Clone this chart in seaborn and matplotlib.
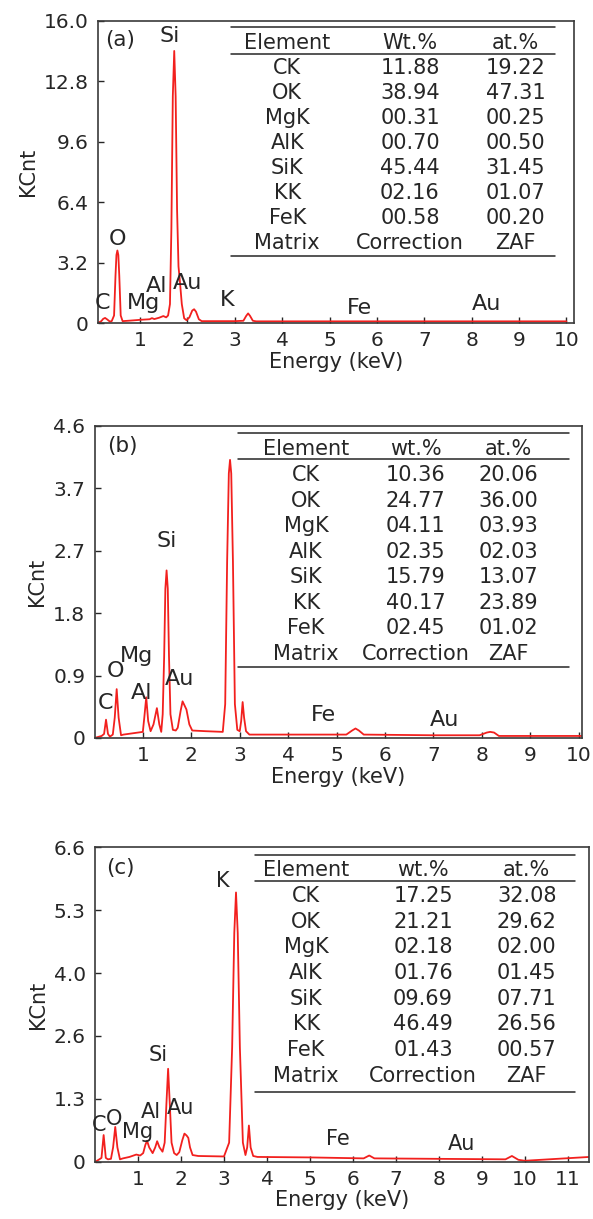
import numpy as np
import matplotlib
matplotlib.use("Agg")
import matplotlib.pyplot as plt
import seaborn as sns

# ---- spectra: energy (keV) and counts (KCnt) ----
energy_a = [0.12, 0.18, 0.22, 0.26, 0.30, 0.36, 0.40, 0.45, 0.48, 0.50,
            0.52, 0.54, 0.56, 0.59, 0.63, 0.80, 1.00, 1.20, 1.25, 1.30,
            1.40, 1.49, 1.55, 1.59, 1.63, 1.66, 1.69, 1.72, 1.75, 1.78,
            1.81, 1.84, 1.88, 1.93, 1.98, 2.04, 2.10, 2.14, 2.18, 2.24,
            2.30, 2.60, 3.00, 3.18, 3.24, 3.28, 3.32, 3.38, 3.45, 5.00,
            8.00, 10.00]
counts_a = [0.02, 0.10, 0.22, 0.27, 0.20, 0.08, 0.10, 0.40, 2.50, 3.60,
            3.84, 3.60, 2.50, 0.40, 0.10, 0.13, 0.17, 0.20, 0.26, 0.21,
            0.28, 0.37, 0.30, 0.40, 1.00, 5.00, 12.00, 14.40, 12.00, 6.00,
            3.00, 2.20, 1.00, 0.25, 0.15, 0.30, 0.66, 0.73, 0.60, 0.20,
            0.10, 0.10, 0.10, 0.12, 0.38, 0.51, 0.38, 0.12, 0.09, 0.09,
            0.09, 0.09]

energy_b = [0.00, 0.15, 0.20, 0.24, 0.28, 0.32, 0.38, 0.42, 0.46, 0.50,
            0.55, 0.60, 0.80, 1.00, 1.03, 1.07, 1.11, 1.16, 1.22, 1.29,
            1.34, 1.38, 1.41, 1.44, 1.465, 1.49, 1.515, 1.54, 1.57, 1.62,
            1.68, 1.72, 1.78, 1.82, 1.86, 1.90, 1.96, 2.02, 2.30, 2.65,
            2.70, 2.74, 2.775, 2.80, 2.825, 2.86, 2.90, 2.95, 3.00, 3.03,
            3.06, 3.09, 3.13, 3.20, 4.00, 5.20, 5.32, 5.39, 5.46, 5.56,
            7.00, 7.95, 8.10, 8.17, 8.25, 8.35, 10.06]
counts_b = [0.00, 0.03, 0.06, 0.27, 0.06, 0.02, 0.05, 0.30, 0.72, 0.30,
            0.04, 0.05, 0.07, 0.09, 0.30, 0.60, 0.25, 0.10, 0.20, 0.44,
            0.20, 0.09, 0.35, 1.20, 2.20, 2.47, 2.20, 1.20, 0.35, 0.12,
            0.11, 0.15, 0.40, 0.54, 0.48, 0.42, 0.20, 0.11, 0.10, 0.09,
            0.50, 2.60, 3.90, 4.10, 3.90, 2.60, 0.50, 0.12, 0.10, 0.25,
            0.53, 0.30, 0.10, 0.05, 0.05, 0.05, 0.11, 0.14, 0.11, 0.05,
            0.04, 0.04, 0.08, 0.09, 0.08, 0.03, 0.03]

energy_c = [0.01, 0.10, 0.15, 0.20, 0.25, 0.30, 0.37, 0.42, 0.47, 0.52,
            0.58, 0.65, 0.80, 0.96, 1.05, 1.12, 1.17, 1.21, 1.26, 1.34,
            1.40, 1.445, 1.50, 1.57, 1.62, 1.66, 1.70, 1.74, 1.78, 1.84,
            1.90, 1.96, 2.03, 2.08, 2.13, 2.17, 2.21, 2.27, 2.40, 3.00,
            3.12, 3.19, 3.24, 3.28, 3.32, 3.37, 3.44, 3.50, 3.54, 3.58,
            3.62, 3.68, 3.78, 5.00, 6.25, 6.38, 6.50, 8.00, 9.55, 9.70,
            9.85, 10.00, 11.50]
counts_c = [0.00, 0.05, 0.08, 0.56, 0.08, 0.05, 0.06, 0.30, 0.73, 0.30,
            0.05, 0.07, 0.10, 0.15, 0.13, 0.18, 0.35, 0.44, 0.30, 0.18,
            0.30, 0.43, 0.30, 0.21, 0.40, 1.20, 1.95, 1.20, 0.40, 0.18,
            0.14, 0.20, 0.45, 0.59, 0.55, 0.50, 0.30, 0.14, 0.12, 0.11,
            0.40, 2.40, 4.80, 5.65, 4.80, 2.40, 0.40, 0.14, 0.30, 0.76,
            0.30, 0.12, 0.10, 0.09, 0.07, 0.13, 0.07, 0.06, 0.05, 0.12,
            0.04, 0.02, 0.10]

# ---- peak labels (text, energy, counts) ----
peak_names_a = ["C", "O", "Mg", "Al", "Si", "Au", "K", "Fe", "Au"]
peak_x_a = [0.20, 0.52, 1.07, 1.35, 1.62, 2.01, 2.83, 5.63, 8.32]
peak_y_a = [1.05, 4.45, 1.05, 1.95, 15.2, 2.10, 1.22, 0.80, 0.99]

peak_names_b = ["C", "O", "Mg", "Al", "Si", "Au", "Fe", "Au"]
peak_x_b = [0.22, 0.43, 0.87, 0.97, 1.49, 1.76, 4.73, 7.23]
peak_y_b = [0.51, 0.98, 1.21, 0.66, 2.90, 0.87, 0.34, 0.27]

peak_names_c = ["C", "O", "Mg", "Al", "Si", "Au", "K", "Fe", "Au"]
peak_x_c = [0.10, 0.44, 0.99, 1.29, 1.47, 1.99, 2.98, 5.64, 8.53]
peak_y_c = [0.76, 0.89, 0.63, 1.04, 2.24, 1.13, 5.90, 0.48, 0.38]

# ---- y tick labels ----
ytick_labels_a = ["0", "3.2", "6.4", "9.6", "12.8", "16.0"]
ytick_labels_b = ["0", "0.9", "1.8", "2.7", "3.7", "4.6"]
ytick_labels_c = ["0", "1.3", "2.6", "4.0", "5.3", "6.6"]

# ---- composition tables ----
elements = ["CK", "OK", "MgK", "AlK", "SiK", "KK", "FeK"]
wt_a = ["11.88", "38.94", "00.31", "00.70", "45.44", "02.16", "00.58"]
at_a = ["19.22", "47.31", "00.25", "00.50", "31.45", "01.07", "00.20"]
wt_b = ["10.36", "24.77", "04.11", "02.35", "15.79", "40.17", "02.45"]
at_b = ["20.06", "36.00", "03.93", "02.03", "13.07", "23.89", "01.02"]
wt_c = ["17.25", "21.21", "02.18", "01.76", "09.69", "46.49", "01.43"]
at_c = ["32.08", "29.62", "02.00", "01.45", "07.71", "26.56", "00.57"]
footer = ["Matrix", "Correction", "ZAF"]

RED = "#f2201e"
INK = "#262626"

sns.set_theme(style="white")
plt.rcParams["font.family"] = ["DejaVu Sans"]
plt.rcParams["text.color"] = INK

fig = plt.figure(figsize=(5.93, 12.19), dpi=100)

panels = [
    dict(tag="(a)", box=[0.166, 0.735, 0.802, 0.248], xlim=(0.12, 10.16),
         nx=10, ymax=16.0, yl=ytick_labels_a, e=energy_a, c=counts_a, fs=16,
         pn=peak_names_a, px=peak_x_a, py=peak_y_a, wth="Wt.%", wt=wt_a, at=at_a,
         tab=dict(x0=0.279, x1=0.959, top=0.978, head=0.927, hline=0.890,
                  row0=0.8425, step=0.0826, bot=0.2225, cols=(0.397, 0.655, 0.877))),
    dict(tag="(b)", box=[0.160, 0.3946, 0.821, 0.256], xlim=(0.01, 10.06),
         nx=10, ymax=4.6, yl=ytick_labels_b, e=energy_b, c=counts_b, fs=16,
         pn=peak_names_b, px=peak_x_b, py=peak_y_b, wth="wt.%", wt=wt_b, at=at_b,
         tab=dict(x0=0.294, x1=0.974, top=0.9765, head=0.925, hline=0.893,
                  row0=0.8417, step=0.0817, bot=0.2267, cols=(0.434, 0.659, 0.849))),
    dict(tag="(c)", box=[0.161, 0.047, 0.832, 0.258], xlim=(0.01, 11.49),
         nx=11, ymax=6.6, yl=ytick_labels_c, e=energy_c, c=counts_c, fs=15,
         pn=peak_names_c, px=peak_x_c, py=peak_y_c, wth="wt.%", wt=wt_c, at=at_c,
         tab=dict(x0=0.323, x1=0.972, top=0.976, head=0.926, hline=0.8916,
                  row0=0.845, step=0.0816, bot=0.223, cols=(0.427, 0.664, 0.874))),
]

for p in panels:
    ax = fig.add_axes(p["box"])
    sns.lineplot(x=p["e"], y=p["c"], ax=ax, color=RED, linewidth=1.3,
                 sort=False, estimator=None)
    ax.set_xlim(*p["xlim"])
    ax.set_ylim(0, p["ymax"])
    ax.set_xticks(range(1, p["nx"] + 1))
    ax.set_yticks(np.linspace(0, p["ymax"], len(p["yl"])))
    ax.set_yticklabels(p["yl"])
    ax.tick_params(axis="both", direction="in", length=4.5, width=1.0,
                   colors=INK, labelsize=14.5, bottom=True, left=True)
    ax.tick_params(axis="x", pad=6)
    ax.tick_params(axis="y", pad=7)
    for s in ax.spines.values():
        s.set_visible(True)
        s.set_color("#3a3a3a")
        s.set_linewidth(1.2)
    ax.set_xlabel("Energy (keV)", fontsize=15, labelpad=1, color=INK)
    ax.set_ylabel("KCnt", fontsize=15, labelpad=4, color=INK)

    ax.text(0.58, p["ymax"] * 0.935, p["tag"], fontsize=15.5, ha="center", va="center")
    for name, x, y in zip(p["pn"], p["px"], p["py"]):
        ax.text(x, y, name, fontsize=p["fs"], ha="center", va="center")

    t = p["tab"]
    tr = ax.transAxes
    for yy in (t["top"], t["hline"], t["bot"]):
        ax.plot([t["x0"], t["x1"]], [yy, yy], transform=tr, color=INK, lw=1.1,
                clip_on=False)
    c0, c1, c2 = t["cols"]
    for x, txt in zip(t["cols"], ["Element", p["wth"], "at.%"]):
        ax.text(x, t["head"], txt, transform=tr, fontsize=15, ha="center", va="center")
    for i, el in enumerate(elements):
        yy = t["row0"] - i * t["step"]
        ax.text(c0, yy, el, transform=tr, fontsize=15, ha="center", va="center")
        ax.text(c1, yy, p["wt"][i], transform=tr, fontsize=15, ha="center", va="center")
        ax.text(c2, yy, p["at"][i], transform=tr, fontsize=15, ha="center", va="center")
    yy = t["row0"] - len(elements) * t["step"]
    for x, txt in zip(t["cols"], footer):
        ax.text(x, yy, txt, transform=tr, fontsize=15, ha="center", va="center")

fig.savefig("out.png", dpi=100)
